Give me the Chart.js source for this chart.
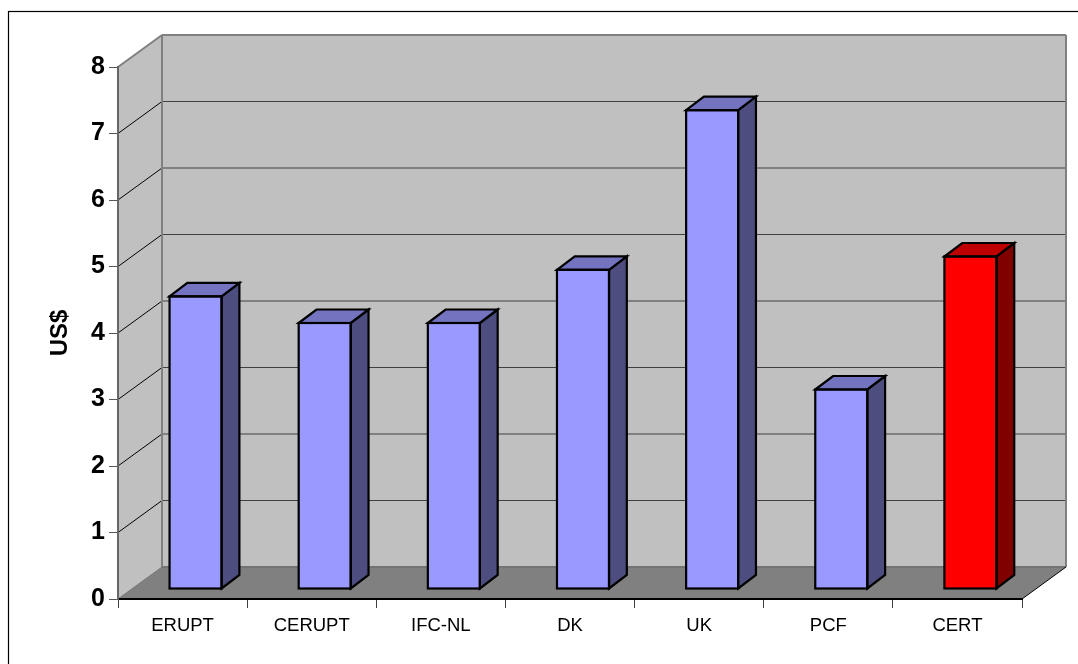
<!DOCTYPE html>
<html><head><meta charset="utf-8">
<style>html,body{margin:0;padding:0;background:#fff}canvas{display:block}</style>
<script src="https://cdn.jsdelivr.net/npm/chart.js@4"></script></head>
<body><canvas id="c" width="1078" height="664"></canvas>
<script>
const categories = ['ERUPT','CERUPT','IFC-NL','DK','UK','PCF','CERT'];
const values = [4.4,4,4,4.8,7.2,3,5];
const frontColors = ['#9999FF','#9999FF','#9999FF','#9999FF','#9999FF','#9999FF','#FF0000'];
const sideColors = ['#4D4D80','#4D4D80','#4D4D80','#4D4D80','#4D4D80','#4D4D80','#800000'];
const topColors = ['#7373BF','#7373BF','#7373BF','#7373BF','#7373BF','#7373BF','#BF0000'];
const yTickValues = [0,1,2,3,4,5,6,7,8];

const WALL_DX = 44, WALL_DY = -32;
const BAR_DX = 13, BAR_DY = -10;
const DEPTH_DX = 17.8, DEPTH_DY = -13.5;

function poly(ctx, pts, fill, stroke, lw){
  ctx.beginPath();
  pts.forEach((p,i)=> i ? ctx.lineTo(p[0],p[1]) : ctx.moveTo(p[0],p[1]));
  ctx.closePath();
  if(fill){ctx.fillStyle=fill;ctx.fill();}
  if(stroke){ctx.strokeStyle=stroke;ctx.lineWidth=lw;ctx.lineJoin='miter';ctx.stroke();}
}
function line(ctx,x1,y1,x2,y2,color,lw){
  ctx.beginPath();ctx.moveTo(x1,y1);ctx.lineTo(x2,y2);ctx.strokeStyle=color;ctx.lineWidth=lw;ctx.stroke();
}
const walls = {
  id:'walls',
  beforeDraw(chart){
    const ctx=chart.ctx, a=chart.chartArea, y=chart.scales.y;
    const L=a.left,R=a.right,T=a.top,B=a.bottom,dx=WALL_DX,dy=WALL_DY;
    ctx.save();
    ctx.strokeStyle='#000';ctx.lineWidth=1.2;ctx.strokeRect(8.5,11.5,1078,664);
    poly(ctx,[[L+dx,T+dy],[R+dx,T+dy],[R+dx,B+dy],[L+dx,B+dy]],'#C0C0C0');
    poly(ctx,[[L,T],[L+dx,T+dy],[L+dx,B+dy],[L,B]],'#C0C0C0');
    poly(ctx,[[L,B],[L+dx,B+dy],[R+dx,B+dy],[R,B]],'#808080');
    yTickValues.forEach(v=>{
      if(v===0||v===8) return;
      const p=y.getPixelForValue(v);
      line(ctx,L,p,L+dx,p+dy,'#000',1);
      line(ctx,L+dx,p+dy,R+dx,p+dy,'#404040',1.2);
    });
    line(ctx,L,T,L+dx,T+dy,'#808080',2);
    line(ctx,L+dx,T+dy,R+dx,T+dy,'#808080',2);
    line(ctx,L+dx,T+dy,L+dx,B+dy,'#808080',2);
    line(ctx,R+dx,T+dy,R+dx,B+dy,'#808080',2);
    line(ctx,L+dx,B+dy,R+dx,B+dy,'#737373',2);
    line(ctx,L,B,L+dx,B+dy,'#737373',1);
    line(ctx,R,B,R+dx,B+dy,'#000',1);
    ctx.restore();
  }
};
const bars3d = {
  id:'bars3d',
  beforeDatasetsDraw(chart){ chart.ctx.save(); chart.ctx.translate(BAR_DX,BAR_DY); },
  afterDatasetsDraw(chart){
    const ctx=chart.ctx, dx=DEPTH_DX, dy=DEPTH_DY;
    chart.getDatasetMeta(0).data.forEach((b,i)=>{
      const l=b.x-b.width/2, r=b.x+b.width/2, t=b.y, o=b.base;
      poly(ctx,[[r,t],[r+dx,t+dy],[r+dx,o+dy],[r,o]],sideColors[i],'#000',2.2);
      poly(ctx,[[l,t],[l+dx,t+dy],[r+dx,t+dy],[r,t]],topColors[i],'#000',2.2);
      ctx.strokeStyle='#000';ctx.lineWidth=2.2;ctx.lineJoin='miter';
      ctx.strokeRect(l,t,r-l,o-t);
    });
    ctx.restore();
  }
};
new Chart(document.getElementById('c'),{
  type:'bar',
  data:{labels:categories,datasets:[{data:values,backgroundColor:frontColors,borderWidth:0,barPercentage:0.403,categoryPercentage:1}]},
  plugins:[walls,bars3d],
  options:{
    responsive:false,animation:false,
    layout:{padding:{top:67,right:56,left:0,bottom:0}},
    plugins:{legend:{display:false},title:{display:false},tooltip:{enabled:false}},
    scales:{
      x:{
        afterFit(s){s.height=65;},
        grid:{drawOnChartArea:false,tickLength:9,color:'#404040',lineWidth:1},
        border:{color:'#000',width:2},
        ticks:{color:'#000',font:{family:'Liberation Sans',size:18.5},padding:7,maxRotation:0,autoSkip:false}
      },
      y:{
        min:0,max:8,
        afterFit(s){s.width=118;},
        title:{display:true,text:'US$',color:'#000',font:{family:'Liberation Sans',size:24,weight:'bold'},padding:{top:46,bottom:0}},
        grid:{drawOnChartArea:false,tickLength:9,color:'#555',lineWidth:1},
        border:{color:'#666',width:2},
        afterBuildTicks(s){s.ticks=yTickValues.map(v=>({value:v}));},
        ticks:{color:'#000',font:{family:'Liberation Sans',size:25,weight:'bold'},padding:4}
      }
    }
  }
});
</script></body></html>
